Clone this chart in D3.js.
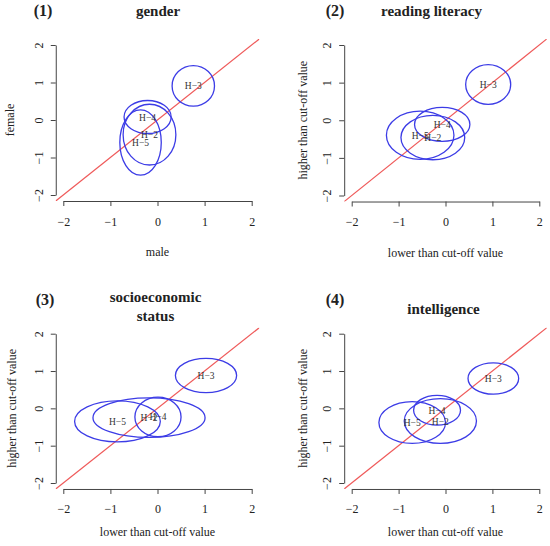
<!DOCTYPE html>
<html>
<head>
<meta charset="utf-8">
<script src="https://cdn.jsdelivr.net/npm/d3@7"></script>
<style>
  body { margin: 0; background: #fff; }
  text { font-family: "Liberation Serif", "DejaVu Serif", serif; }
</style>
</head>
<body>
<div id="container"></div>
<script>
/* DATA */
const groups = ["H−2", "H−3", "H−4", "H−5"];
const tickValues = [-2, -1, 0, 1, 2];

// panel (1) gender
const genderCx = [-0.17, 0.76, -0.21, -0.36];
const genderCy = [-0.39, 0.91, 0.08, -0.60];
const genderRx = [0.56, 0.45, 0.50, 0.44];
const genderRy = [0.81, 0.54, 0.44, 0.87];

// panel (2) reading literacy
const readingCx = [-0.27, 0.91, -0.07, -0.54];
const readingCy = [-0.46, 0.95, -0.11, -0.40];
const readingRx = [0.68, 0.48, 0.59, 0.72];
const readingRy = [0.59, 0.53, 0.45, 0.64];

// panel (3) socioeconomic status
const sesCx = [-0.18, 1.03, 0.01, -0.85];
const sesCy = [-0.25, 0.88, -0.23, -0.35];
const sesRx = [1.19, 0.65, 0.49, 0.91];
const sesRy = [0.53, 0.46, 0.53, 0.55];

// panel (4) intelligence
const intelCx = [-0.11, 1.02, -0.18, -0.71];
const intelCy = [-0.34, 0.80, -0.05, -0.38];
const intelRx = [0.77, 0.54, 0.50, 0.71];
const intelRy = [0.60, 0.42, 0.40, 0.56];

const panelNumbers = ["(1)", "(2)", "(3)", "(4)"];
const panelTitles = [["gender"], ["reading literacy"], ["socioeconomic", "status"], ["intelligence"]];
const xTitles = ["male", "lower than cut-off value", "lower than cut-off value", "lower than cut-off value"];
const yTitles = ["female", "higher than cut-off value", "higher than cut-off value", "higher than cut-off value"];

/* CONSTANTS */
const width = 550;
const height = 546;
const ext = 2.16; // R style 4% extension of the plot region

// pixel positions of ticks -2 and 2 for each panel
const layout = [
  {x0: 63.3,  x1: 251.7, y0: 195,   y1: 45,    num: [43, 16],  title: [158, 16],   sub: 0,    yt: 10,  xt: 55},
  {x0: 351.7, x1: 539.3, y0: 195.5, y1: 45,    num: [335, 16], title: [431.5, 16], sub: 0,    yt: 303, xt: 55},
  {x0: 63.3,  x1: 251.7, y0: 483,   y1: 333.7, num: [45, 305],   title: [155.5, 302], sub: 18.5, yt: 12, xt: 47},
  {x0: 351.7, x1: 539.3, y0: 483,   y1: 333.7, num: [335, 305],  title: [443.5, 314], sub: 0,    yt: 303, xt: 47}
];

const panels = [
  {cx: genderCx, cy: genderCy, rx: genderRx, ry: genderRy},
  {cx: readingCx, cy: readingCy, rx: readingRx, ry: readingRy},
  {cx: sesCx, cy: sesCy, rx: sesRx, ry: sesRy},
  {cx: intelCx, cy: intelCy, rx: intelRx, ry: intelRy}
];

const svg = d3.select("#container")
  .append("svg")
  .attr("width", width)
  .attr("height", height);

panels.forEach((p, i) => {
  const L = layout[i];

  const xScale = d3.scaleLinear().domain([-2, 2]).range([L.x0, L.x1]);
  const yScale = d3.scaleLinear().domain([-2, 2]).range([L.y0, L.y1]);

  const g = svg.append("g");

  // clip to plot region
  const clipId = "clip" + i;
  svg.append("clipPath").attr("id", clipId)
    .append("rect")
    .attr("x", xScale(-ext))
    .attr("y", yScale(ext))
    .attr("width", xScale(ext) - xScale(-ext))
    .attr("height", yScale(-ext) - yScale(ext));

  // x axis
  const xAxis = d3.axisBottom(xScale)
    .tickValues(tickValues)
    .tickSize(5)
    .tickSizeOuter(0)
    .tickFormat(d3.format("d"));
  const gx = g.append("g")
    .attr("transform", `translate(0, ${yScale(-ext)})`)
    .call(xAxis);
  gx.selectAll("text")
    .attr("y", 16)
    .style("font-size", "12px")
    .style("fill", "#222");

  // y axis
  const yAxis = d3.axisLeft(yScale)
    .tickValues(tickValues)
    .tickSize(5)
    .tickSizeOuter(0)
    .tickFormat(d3.format("d"));
  const gy = g.append("g")
    .attr("transform", `translate(${xScale(-ext)}, 0)`)
    .call(yAxis);
  gy.selectAll("text")
    .attr("x", 0)
    .attr("dy", 0)
    .attr("transform", "translate(-13,0) rotate(-90)")
    .attr("text-anchor", "middle")
    .style("font-size", "12px")
    .style("fill", "#222");

  g.selectAll(".domain, .tick line")
    .attr("stroke", "#444");

  // diagonal reference line
  const lineGen = d3.line()
    .x(d => xScale(d))
    .y(d => yScale(d));
  g.append("path")
    .datum([-ext - 0.5, ext + 0.5])
    .attr("clip-path", `url(#${clipId})`)
    .attr("fill", "none")
    .attr("stroke", "#ef5a5a")
    .attr("stroke-width", 1.2)
    .attr("d", lineGen);

  // ellipses
  const rows = groups.map((name, k) => ({
    name: name, cx: p.cx[k], cy: p.cy[k], rx: p.rx[k], ry: p.ry[k]
  }));

  g.selectAll(".ell")
    .data(rows)
    .join("ellipse")
    .attr("class", "ell")
    .attr("cx", d => xScale(d.cx))
    .attr("cy", d => yScale(d.cy))
    .attr("rx", d => xScale(d.cx + d.rx) - xScale(d.cx))
    .attr("ry", d => yScale(d.cy) - yScale(d.cy + d.ry))
    .attr("fill", "none")
    .attr("stroke", "#3c3ce6")
    .attr("stroke-width", 1.3);

  g.selectAll(".lab")
    .data(rows)
    .join("text")
    .attr("class", "lab")
    .attr("x", d => xScale(d.cx))
    .attr("y", d => yScale(d.cy) + 3.5)
    .attr("text-anchor", "middle")
    .style("font-size", "9.5px")
    .style("fill", "#333")
    .text(d => d.name);

  // titles
  g.append("text")
    .attr("x", L.num[0])
    .attr("y", L.num[1])
    .attr("text-anchor", "middle")
    .style("font-size", "16px")
    .style("font-weight", "bold")
    .style("fill", "#222")
    .text(panelNumbers[i]);

  panelTitles[i].forEach((t, j) => {
    g.append("text")
      .attr("x", L.title[0])
      .attr("y", L.title[1] + j * L.sub)
      .attr("text-anchor", "middle")
      .style("font-size", "15px")
      .style("font-weight", "bold")
      .style("fill", "#222")
      .text(t);
  });

  // axis labels
  g.append("text")
    .attr("x", (xScale(-ext) + xScale(ext)) / 2)
    .attr("y", yScale(-ext) + L.xt)
    .attr("text-anchor", "middle")
    .style("font-size", "12px")
    .style("fill", "#222")
    .text(xTitles[i]);

  g.append("text")
    .attr("transform", `translate(${L.yt + 4}, ${yScale(0)}) rotate(-90)`)
    .attr("text-anchor", "middle")
    .style("font-size", "12px")
    .style("fill", "#222")
    .text(yTitles[i]);
});
</script>
</body>
</html>
